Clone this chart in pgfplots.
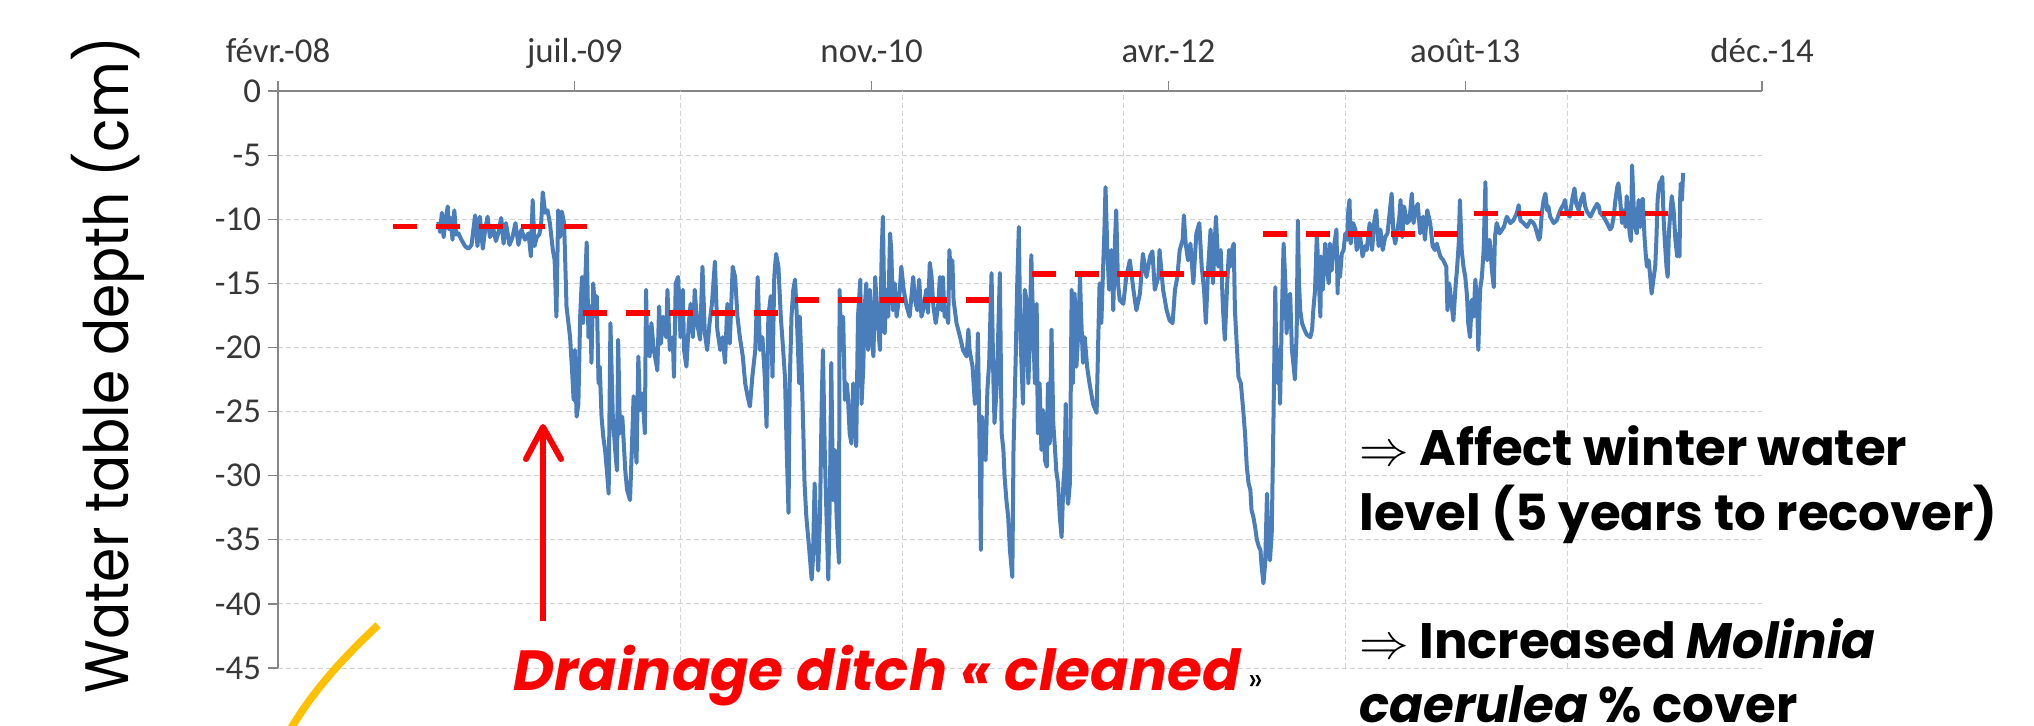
\documentclass[border=0pt]{standalone}
\usepackage{fontspec}
\usepackage{pgfplots}
\pgfplotsset{compat=1.18}
\setmainfont{Carlito}
\newfontfamily\gothic{Poppins}
\definecolor{wtblue}{RGB}{74,126,187}
\definecolor{gridgray}{RGB}{210,210,210}
\definecolor{axgray}{RGB}{134,134,134}
\definecolor{gold}{RGB}{255,192,0}
\begin{document}
\begin{tikzpicture}[x=0.5bp,y=-0.5bp]
\useasboundingbox (0,0) rectangle (2034,725);
\begin{axis}[
  at={(139bp,-334bp)}, anchor=south west,
  scale only axis, width=742bp, height=288.5bp,
  xmin=0, xmax=2500, ymin=-45, ymax=0,
  axis x line*=top, axis y line*=left,
  axis line style={axgray, line width=0.6bp},
  tick style={axgray, line width=0.6bp},
  tick align=outside, major tick length=5bp,
  xtick={0,500,1000,1500,2000,2500},
  xticklabels={févr.-08, juil.-09, nov.-10, avr.-12, août-13, déc.-14},
  ytick={-45,-40,-35,-30,-25,-20,-15,-10,-5,0},
  yticklabels={-45,-40,-35,-30,-25,-20,-15,-10,-5,0},
  ticklabel style={font=\fontsize{17.5}{20}\selectfont, text=black!78},
  xticklabel style={text depth=0pt, yshift=5.5bp},
  ymajorgrids=true,
  extra x ticks={678,1052,1425,1799,2173},
  extra x tick labels={},
  extra x tick style={grid=major, major tick length=0pt},
  grid style={gridgray, dash pattern=on 2.5bp off 1.5bp, line width=0.5bp},
]
\addplot[wtblue, line width=2bp, line join=round] coordinates {
(270,-10.2) (273,-11.0) (276,-9.5) (279,-11.4) (283,-9.8) (286,-9.0) (288,-10.8) (291,-9.9) (294,-11.6) (297,-9.3)
(300,-11.2) (304,-11.1) (309,-11.6) (315,-12.1) (321,-12.3) (326,-12.0) (332,-9.7) (336,-12.1) (340,-9.8) (345,-12.3)
(349,-10.8) (353,-9.8) (357,-11.4) (363,-10.8) (367,-11.7) (371,-11.1) (376,-9.9) (380,-11.9) (384,-10.3) (390,-12.0)
(395,-11.4) (400,-10.3) (405,-12.0) (410,-10.8) (416,-11.6) (422,-11.1) (426,-12.9) (429,-8.5) (432,-12.1) (436,-11.4)
(440,-11.2) (443,-10.6) (446,-7.9) (450,-9.5) (454,-9.3) (458,-10.3) (463,-12.4) (466,-13.2) (469,-17.6) (472,-9.3)
(475,-11.4) (478,-9.4) (482,-10.3) (486,-16.8) (492,-19.2) (495,-21.5) (498,-24.1) (500,-20.2) (503,-25.4) (506,-24.4)
(509,-17.6) (512,-14.5) (514,-18.1) (517,-15.5) (520,-11.8) (523,-19.2) (526,-16.8) (528,-21.2) (531,-15.0) (535,-17.6)
(537,-16.0) (540,-22.8) (542,-21.5) (545,-25.4) (548,-27.0) (551,-28.0) (554,-29.6) (557,-31.4) (560,-18.1) (564,-25.4)
(568,-28.0) (571,-29.6) (573,-19.4) (576,-26.7) (580,-25.4) (585,-29.6) (588,-31.1) (593,-31.9) (596,-28.0) (599,-23.8)
(601,-26.7) (604,-29.0) (607,-20.7) (610,-24.9) (614,-23.6) (618,-26.7) (620,-15.5) (622,-20.2) (626,-20.7) (629,-18.1)
(633,-20.2) (637,-21.2) (639,-21.8) (642,-16.8) (645,-19.7) (649,-17.6) (654,-19.2) (656,-15.5) (660,-20.2) (665,-19.2)
(667,-22.3) (670,-15.0) (674,-14.5) (678,-19.2) (682,-15.5) (684,-20.2) (688,-21.5) (692,-18.1) (695,-16.6) (699,-19.2)
(702,-15.5) (706,-18.1) (711,-19.4) (715,-13.7) (719,-18.9) (723,-20.2) (727,-18.1) (731,-16.6) (736,-13.3) (740,-18.6)
(745,-20.2) (749,-19.2) (753,-21.2) (757,-16.6) (761,-19.7) (766,-13.7) (770,-14.5) (774,-17.6) (778,-19.2) (783,-20.7)
(787,-22.8) (791,-23.8) (795,-24.6) (799,-22.3) (804,-20.2) (808,-14.5) (812,-20.2) (816,-19.2) (820,-22.3) (823,-26.2)
(826,-17.6) (830,-16.0) (833,-22.3) (836,-14.5) (839,-12.7) (843,-13.7) (847,-17.6) (851,-20.2) (854,-22.3) (857,-28.0)
(860,-32.9) (862,-22.8) (865,-17.6) (868,-15.5) (871,-14.7) (874,-17.6) (878,-22.8)
(879,-17.6) (882,-21.5) (885,-26.7) (887,-30.6) (890,-33.2) (895,-35.8) (899,-38.1) (901,-36.6) (904,-30.6) (907,-34.5)
(910,-37.4) (913,-33.2) (916,-24.1) (918,-20.2) (921,-28.0) (924,-33.2) (927,-38.1) (930,-30.6) (932,-21.2) (935,-31.9)
(938,-28.0) (941,-33.2) (945,-36.8) (946,-15.5) (949,-20.2) (952,-17.6) (955,-24.1) (958,-22.8) (960,-23.8) (963,-26.7)
(966,-27.5) (969,-22.8) (972,-24.1) (974,-27.7) (977,-17.6) (981,-14.7) (983,-24.4) (986,-21.5) (988,-17.1) (991,-15.0)
(994,-20.2) (997,-15.5) (1000,-19.2) (1003,-20.7) (1006,-14.5) (1009,-17.1) (1014,-20.2) (1017,-12.4) (1019,-9.8) (1022,-18.9)
(1025,-15.5) (1028,-17.6) (1031,-11.1) (1033,-12.4) (1036,-17.1) (1039,-15.0) (1042,-17.6) (1045,-16.6) (1047,-15.8) (1050,-13.7)
(1054,-15.5) (1059,-16.8) (1064,-17.6) (1070,-14.5) (1073,-16.3) (1077,-17.1) (1080,-14.7) (1084,-17.6) (1088,-16.8) (1092,-15.5)
(1095,-17.3) (1098,-13.4) (1101,-14.5) (1104,-16.8) (1108,-18.1) (1112,-16.8) (1115,-14.5) (1118,-17.1) (1120,-14.5) (1123,-17.6)
(1126,-17.3) (1129,-18.1) (1131,-12.4) (1133,-14.0) (1136,-13.2) (1138,-16.3) (1143,-18.1) (1149,-19.2) (1154,-20.2) (1160,-20.7)
(1163,-18.6) (1165,-20.2) (1170,-21.5) (1174,-24.4) (1177,-23.3) (1179,-18.9) (1182,-28.0) (1184,-35.8) (1186,-25.4) (1189,-27.5)
(1192,-28.8) (1195,-23.3) (1198,-21.2) (1202,-14.2) (1205,-22.3) (1207,-25.9) (1211,-22.8) (1216,-14.2) (1219,-26.7) (1222,-28.0)
(1224,-30.1) (1227,-31.9) (1230,-33.2) (1233,-35.8) (1237,-37.9) (1239,-28.0) (1243,-20.2) (1245,-15.5) (1248,-10.6) (1250,-17.6)
(1252,-20.7) (1255,-24.4) (1258,-15.5) (1261,-16.3) (1264,-22.8) (1266,-20.2) (1269,-12.8) (1272,-18.1) (1275,-22.8) (1278,-16.6)
(1280,-26.7) (1283,-22.8) (1286,-28.0) (1289,-24.9) (1292,-28.8) (1295,-29.3) (1297,-22.8) (1300,-27.5) (1303,-18.6) (1306,-25.9)
(1309,-28.0) (1311,-29.6) (1314,-30.6) (1317,-33.2) (1320,-34.8) (1323,-30.6) (1325,-29.3) (1327,-24.4) (1328,-30.6) (1331,-32.2)
(1334,-30.6) (1337,-15.5) (1339,-22.8) (1342,-15.8) (1345,-21.5) (1348,-18.9) (1351,-14.5) (1353,-17.6) (1356,-21.2) (1359,-19.2)
(1363,-21.5) (1367,-22.8) (1373,-24.4) (1379,-25.1) (1382,-18.9) (1384,-15.0) (1387,-18.1) (1390,-13.7) (1392,-11.1) (1394,-7.5)
(1397,-12.4) (1400,-15.5) (1404,-12.4) (1407,-17.1) (1410,-11.6) (1412,-9.3) (1415,-15.0) (1418,-16.3) (1424,-16.6) (1429,-14.5)
(1435,-13.2) (1441,-15.5) (1446,-17.1) (1452,-15.8) (1457,-12.7) (1463,-14.5) (1469,-12.9) (1473,-12.5) (1477,-15.5) (1483,-14.5)
(1485,-12.4) (1491,-15.5) (1497,-17.1) (1502,-17.9) (1507,-18.1) (1511,-15.5) (1515,-14.5) (1519,-12.4) (1524,-11.6) (1526,-9.7)
(1529,-11.9) (1533,-13.2) (1537,-11.9) (1542,-15.0) (1547,-11.1) (1552,-10.3) (1556,-13.7) (1560,-15.5) (1563,-18.1) (1567,-13.7)
(1571,-10.8) (1575,-15.0) (1580,-9.8) (1584,-13.7) (1588,-12.4) (1592,-17.1) (1595,-19.4) (1599,-15.0) (1602,-12.4)
(1604,-13.7) (1607,-12.4) (1610,-11.9) (1612,-17.1) (1615,-19.7) (1618,-22.3) (1622,-22.8) (1626,-24.9) (1629,-26.7) (1632,-29.3)
(1635,-30.6) (1638,-31.1) (1640,-32.7) (1643,-33.2) (1646,-34.0) (1649,-35.0) (1652,-35.5) (1655,-35.8) (1657,-37.1) (1660,-38.4)
(1663,-36.8) (1666,-31.4) (1669,-35.8) (1671,-36.6) (1674,-34.5) (1677,-25.4) (1680,-15.3) (1681,-18.9) (1684,-22.8) (1686,-20.2)
(1688,-24.4) (1691,-17.6) (1694,-11.9) (1697,-15.0) (1699,-18.9) (1702,-16.6) (1705,-15.8) (1708,-20.2) (1711,-21.5) (1713,-22.5)
(1716,-18.9) (1718,-10.1) (1720,-15.0) (1722,-17.1) (1725,-18.1) (1729,-18.6) (1733,-19.0) (1739,-19.2) (1742,-18.6) (1744,-17.1)
(1747,-15.5) (1750,-11.1) (1753,-14.5) (1756,-17.6) (1757,-12.9) (1760,-15.5) (1764,-11.9) (1767,-13.7) (1770,-15.0) (1772,-11.9)
(1775,-14.0) (1778,-12.4) (1783,-10.8) (1785,-15.8) (1786,-12.9) (1789,-14.5) (1792,-12.7) (1795,-12.4) (1798,-11.1) (1801,-11.6)
(1803,-9.3) (1805,-8.5) (1807,-11.9) (1811,-10.3) (1815,-10.8) (1817,-12.4) (1823,-11.4) (1827,-12.9) (1831,-12.1) (1834,-12.4)
(1839,-10.3) (1843,-12.4) (1847,-10.1) (1850,-9.3) (1854,-12.1) (1857,-10.8) (1861,-12.4) (1865,-11.4) (1869,-11.1) (1872,-9.8)
(1876,-8.0) (1879,-11.1) (1882,-11.9) (1886,-10.8) (1889,-9.8) (1891,-8.5) (1894,-11.4) (1897,-9.0) (1902,-10.3) (1906,-10.1)
(1910,-8.0) (1913,-10.3) (1916,-9.3) (1920,-8.8) (1924,-11.1) (1929,-9.8) (1932,-11.6) (1936,-9.3) (1941,-10.3) (1945,-12.1)
(1949,-12.4) (1952,-11.9) (1958,-12.9) (1963,-13.2) (1968,-13.7) (1970,-17.1) (1973,-15.0) (1977,-16.6) (1980,-17.9) (1984,-15.0)
(1986,-14.0) (1989,-11.9) (1991,-8.5) (1994,-12.4) (1997,-13.7) (2000,-14.5) (2003,-16.0) (2005,-18.1) (2008,-19.2) (2011,-16.3)
(2014,-17.6) (2017,-14.7) (2020,-16.6) (2022,-20.2) (2025,-15.5) (2028,-14.5) (2031,-12.4) (2034,-7.1) (2035,-11.1) (2037,-13.2)
(2041,-11.6) (2045,-14.0) (2048,-15.3) (2050,-11.4) (2053,-10.3) (2058,-11.1)
(2065,-10.6) (2070,-9.8) (2076,-10.3) (2081,-10.1) (2087,-9.5) (2090,-8.9) (2093,-10.1) (2098,-10.3) (2104,-10.6) (2110,-10.1)
(2115,-10.3) (2118,-10.6) (2121,-11.1) (2124,-11.6) (2126,-11.4) (2129,-9.5) (2132,-8.5) (2135,-8.0) (2138,-9.3) (2140,-9.0)
(2143,-9.8) (2149,-10.3) (2154,-10.1) (2160,-9.3) (2166,-8.8) (2168,-8.5) (2171,-9.5) (2176,-9.8) (2180,-8.5) (2184,-7.6)
(2187,-8.8) (2191,-9.3) (2195,-8.5) (2199,-8.0) (2202,-9.0) (2205,-9.4) (2211,-9.8) (2216,-9.3) (2222,-8.8) (2225,-9.0)
(2227,-9.5) (2233,-9.8) (2239,-10.3) (2244,-10.8) (2247,-10.6) (2250,-9.8) (2253,-8.5) (2256,-7.5) (2258,-7.2) (2261,-8.5)
(2264,-10.3) (2267,-9.3) (2270,-10.6) (2272,-8.2) (2275,-10.1) (2277,-11.1) (2279,-11.7) (2281,-5.8) (2284,-9.3) (2286,-10.6)
(2289,-11.1) (2292,-8.5) (2295,-10.6) (2298,-8.5) (2299,-8.4) (2302,-11.4) (2304,-12.7) (2306,-13.7) (2309,-13.2) (2312,-14.7)
(2314,-15.8) (2317,-14.7) (2320,-13.7) (2322,-11.6) (2324,-8.5) (2327,-7.2) (2330,-7.0) (2332,-6.7) (2334,-9.8) (2336,-11.6)
(2339,-13.7) (2341,-14.5) (2343,-11.1) (2345,-9.8) (2348,-8.2) (2351,-9.3) (2354,-11.6) (2357,-12.9) (2359,-11.1) (2361,-12.9)
(2362,-8.5) (2363,-7.2) (2365,-8.5) (2367,-6.4)
};
\addplot[red, line width=2.8bp, dash pattern=on 12bp off 9.35bp] coordinates {(194,-10.57) (521,-10.57)};
\addplot[red, line width=2.8bp, dash pattern=on 12bp off 9.35bp] coordinates {(514,-17.3) (842,-17.3)};
\addplot[red, line width=2.8bp, dash pattern=on 12bp off 9.35bp] coordinates {(871,-16.3) (1198,-16.3)};
\addplot[red, line width=2.8bp, dash pattern=on 12bp off 9.35bp] coordinates {(1270,-14.25) (1599,-14.25)};
\addplot[red, line width=2.8bp, dash pattern=on 12bp off 9.35bp] coordinates {(1659,-11.17) (1988,-11.17)};
\addplot[red, line width=2.8bp, dash pattern=on 12bp off 9.35bp] coordinates {(2015,-9.55) (2342,-9.55)};
\end{axis}
% y label
\node[rotate=90, anchor=base, inner sep=0, font=\gothic\fontsize{28.5}{34}\selectfont] at (128,365) {\scalebox{0.97}[1.08]{Water table depth (cm)}};
% arrow
\draw[red, line width=3bp] (543,621) -- (543,432);
\draw[red, line width=3bp, line cap=round, line join=round] (526,459) -- (543,427) -- (561,459);
% yellow curve
\draw[gold, line width=3.8bp] (378,625) .. controls (350,652) and (318,683) .. (290,730);
% red caption
\node[anchor=base west, inner sep=0, text=red, font=\gothic\bfseries\itshape\fontsize{28.4}{34}\selectfont] at (513,690) {Drainage ditch « cleaned};
\node[anchor=base west, inner sep=0, font=\gothic\fontsize{16}{20}\selectfont] at (1248,690) {»};
% right notes
\begin{scope}[every node/.style={anchor=base west, inner sep=0, font=\gothic\bfseries\fontsize{25}{30}\selectfont}]
\node at (1359,465) {$\Rightarrow$ Affect winter water};
\node at (1359,530) {level (5 years to recover)};
\node at (1359,658) {$\Rightarrow$ Increased \textit{Molinia}};
\node at (1359,722) {\textit{caerulea} \% cover};
\end{scope}
\end{tikzpicture}
\end{document}
